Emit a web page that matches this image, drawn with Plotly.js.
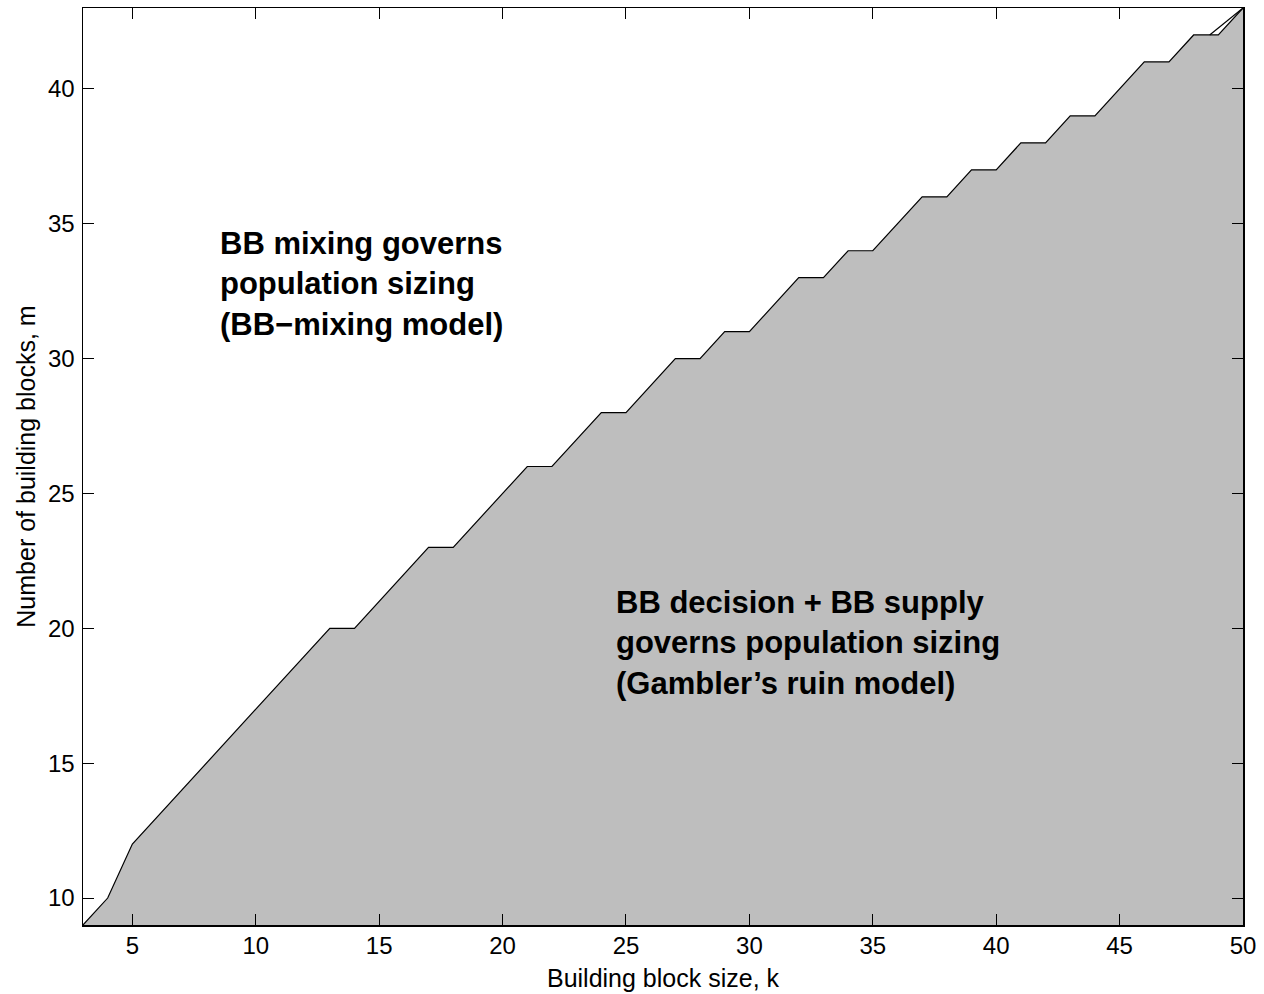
<!DOCTYPE html>
<html>
<head>
<meta charset="utf-8">
<script src="https://cdn.plot.ly/plotly-3.0.1.min.js"></script>
<style>html,body{margin:0;padding:0;background:#fff;}#chart{width:1264px;height:994px;}</style>
</head>
<body>
<div id="chart"></div>
<script>
// Building block size k and boundary number of building blocks m
const blockSize = [3,4,5,6,7,8,9,10,11,12,13,14,15,16,17,18,19,20,21,22,23,24,25,26,27,28,29,30,31,32,33,34,35,36,37,38,39,40,41,42,43,44,45,46,47,48,49,50];
const boundaryM = [9,10,12,13,14,15,16,17,18,19,20,20,21,22,23,23,24,25,26,26,27,28,28,29,30,30,31,31,32,33,33,34,34,35,36,36,37,37,38,38,39,39,40,41,41,42,42,43];
// extra short segment near the top right
const extraK = [48.65, 50];
const extraM = [42, 43];
const xTicks = [5,10,15,20,25,30,35,40,45,50];
const yTicks = [10,15,20,25,30,35,40];
const regionLabels = [
  "BB mixing governs<br>population sizing<br>(BB\u2212mixing model)",
  "BB decision + BB supply<br>governs population sizing<br>(Gambler\u2019s ruin model)"
];
const labelK = [8.45, 24.5];
const labelM = [32.75, 19.45];

const FONT = "Liberation Sans, Arial, Helvetica, sans-serif";

const traces = [
  {x: blockSize, y: boundaryM, type: 'scatter', mode: 'lines', fill: 'tozeroy',
   fillcolor: '#bebebe', line: {color: '#000', width: 1.2}, hoverinfo: 'skip'},
  {x: extraK, y: extraM, type: 'scatter', mode: 'lines',
   line: {color: '#000', width: 1.2}, hoverinfo: 'skip'}
];

const axisCommon = {
  showgrid: false, zeroline: false, showline: true, mirror: 'ticks',
  linecolor: '#000', linewidth: 1.5, ticks: 'inside', ticklen: 11, tickwidth: 1, tickcolor: '#000',
  tickfont: {family: FONT, size: 24, color: '#000'}
};

const layout = {
  width: 1264, height: 994,
  margin: {l: 83, r: 21, t: 8, b: 69},
  paper_bgcolor: '#fff', plot_bgcolor: '#fff',
  showlegend: false,
  xaxis: Object.assign({}, axisCommon, {
    range: [3, 50], tickvals: xTicks, ticktext: xTicks.map(String),
    ticklabelstandoff: -1,
    title: {text: 'Building block size, k', font: {family: FONT, size: 25, color: '#000'}, standoff: 11}
  }),
  yaxis: Object.assign({}, axisCommon, {
    range: [9, 43], tickvals: yTicks, ticktext: yTicks.map(String),
    ticklabelstandoff: 2,
    title: {text: 'Number of building blocks, m', font: {family: FONT, size: 25, color: '#000'}, standoff: 5}
  }),
  annotations: regionLabels.map((t, i) => ({
    x: labelK[i], y: labelM[i], xref: 'x', yref: 'y', text: t, showarrow: false,
    xanchor: 'left', yanchor: 'middle', align: 'left',
    font: {family: FONT, size: 31, color: '#000', weight: 'bold'}
  }))
};

Plotly.newPlot('chart', traces, layout, {staticPlot: true, displayModeBar: false});
</script>
</body>
</html>
